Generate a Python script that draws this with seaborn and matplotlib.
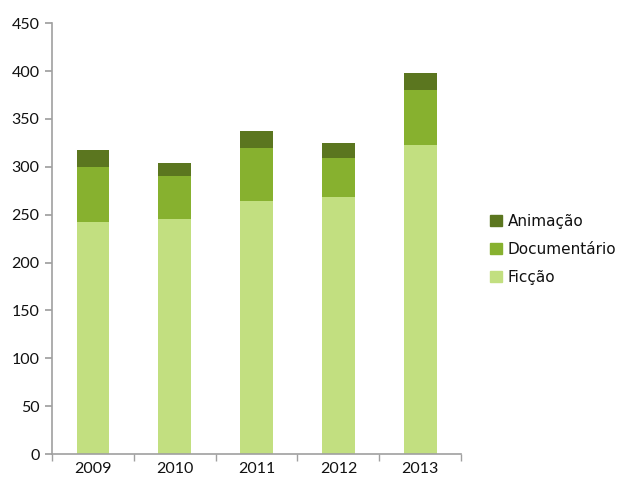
import matplotlib
matplotlib.use('Agg')

import numpy as np
import pandas as pd
import matplotlib.pyplot as plt
import seaborn as sns
from matplotlib.patches import Patch

# dados
anos = ['2009', '2010', '2011', '2012', '2013']
ficcao = [242, 245, 264, 268, 323]
documentario = [58, 45, 56, 41, 57]
animacao = [18, 14, 17, 16, 18]

cores = {'Ficção': '#C2DF80', 'Documentário': '#87B12F', 'Animação': '#5B761F'}

sns.set_theme(style='white')
plt.rcParams['font.family'] = ['Lato', 'DejaVu Sans']

df = pd.DataFrame({'ano': anos, 'Ficção': ficcao,
                   'Documentário': documentario, 'Animação': animacao})
df['nivel2'] = df['Ficção'] + df['Documentário']
df['nivel3'] = df['nivel2'] + df['Animação']

fig = plt.figure(figsize=(6.19, 4.82), dpi=100)
ax = fig.add_axes([0.084, 0.058, 0.661, 0.894])

# barras empilhadas (sobrepostas, do total para baixo)
for col, cor in [('nivel3', 'Animação'), ('nivel2', 'Documentário'), ('Ficção', 'Ficção')]:
    sns.barplot(data=df, x='ano', y=col, color=cores[cor], width=0.4,
                saturation=1, linewidth=0, ax=ax)

ax.set_ylim(0, 450)
ax.set_xlim(-0.5, 4.5)
ax.set_yticks(np.arange(0, 451, 50))
ax.set_xlabel('')
ax.set_ylabel('')

for s in ['top', 'right']:
    ax.spines[s].set_visible(False)
for s in ['left', 'bottom']:
    ax.spines[s].set_color('#A0A0A0')
    ax.spines[s].set_linewidth(1.2)

ax.tick_params(axis='y', which='major', left=True, length=5, color='#A0A0A0',
               labelsize=11.5, labelcolor='#111111', pad=4)
ax.tick_params(axis='x', which='major', bottom=False, length=0, labelsize=11.5,
               labelcolor='#111111', pad=6)
ax.set_xticks(np.arange(-0.5, 4.6, 1), minor=True)
ax.tick_params(axis='x', which='minor', bottom=True, length=5, color='#A0A0A0')

handles = [Patch(color=cores[k]) for k in ['Animação', 'Documentário', 'Ficção']]
leg = fig.legend(handles, ['Animação', 'Documentário', 'Ficção'],
                 loc='center left', bbox_to_anchor=(0.77, 0.482), frameon=False,
                 prop={'family': 'DejaVu Sans', 'size': 11},
                 handlelength=0.75, handleheight=0.75, handletextpad=0.4,
                 labelspacing=0.85)
for t in leg.get_texts():
    t.set_color('#111111')

plt.savefig('out.png', dpi=100)
plt.close()
